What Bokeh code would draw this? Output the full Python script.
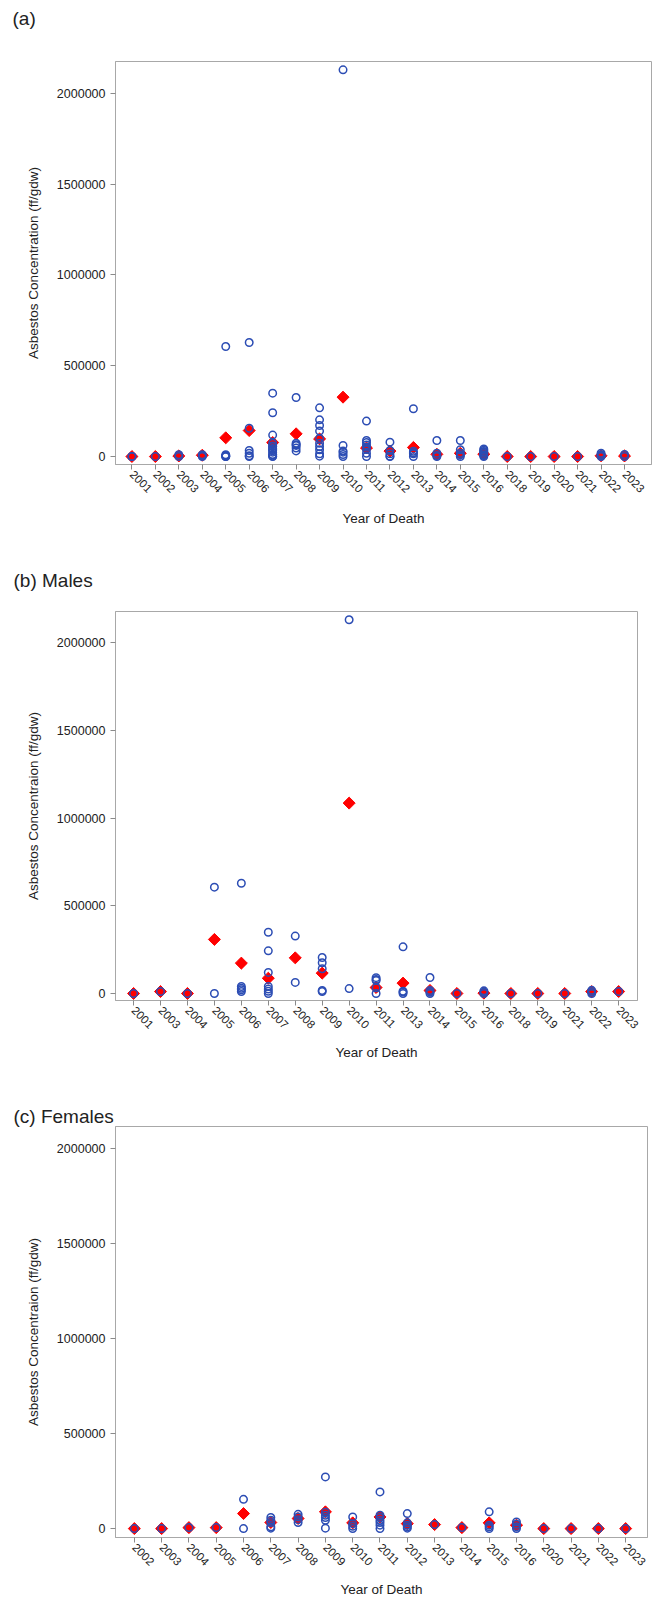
import math
from bokeh.plotting import figure
from bokeh.layouts import column
from bokeh.models import Range1d, FixedTicker, NumeralTickFormatter, Title
from bokeh.embed import file_html
from bokeh.resources import INLINE

# ---------------- data: (a) all ----------------
a_years = ["2001", "2002", "2003", "2004", "2005", "2006", "2007", "2008", "2009", "2010", "2011",
           "2012", "2013", "2014", "2015", "2016", "2018", "2019", "2020", "2021", "2022", "2023"]
a_means = [0, 0, 3000, 7000, 103000, 143000, 77000, 125000, 97000, 327000, 47000,
           30000, 50000, 12000, 18000, 13000, 0, 0, 0, 0, 4000, 3000]
a_obs = [
    [0, 0],
    [0],
    [0, 10000],
    [0, 5000, 10000],
    [606000, 10000, 5000, 2000, 0, 0],
    [628000, 156000, 33000, 18000, 4000, 0],
    [349000, 241000, 118000, 73000, 55000, 39000, 24000, 11000, 0, 58000, 44000, 32000, 9000, 2000],
    [325000, 73000, 61000, 31000, 47000, 65000],
    [268000, 202000, 171000, 140000, 99000, 73000, 55000, 37000, 15000, 2000],
    [2130000, 61000, 30000, 24000, 11000, 0],
    [195000, 88000, 77000, 64000, 51000, 39000, 18000, 0],
    [79000, 33000, 15000, 2000, 0],
    [263000, 29000, 21000, 15000, 0],
    [88000, 18000, 5000, 0],
    [88000, 37000, 18000, 9000, 0],
    [42000, 35000, 28000, 23000, 17000, 9000, 5000, 0],
    [0],
    [0],
    [0],
    [0],
    [18000, 10000, 5000, 0],
    [11000, 0],
]

# ---------------- data: (b) males ----------------
b_years = ["2001", "2003", "2004", "2005", "2006", "2007", "2008", "2009", "2010", "2011",
           "2013", "2014", "2015", "2016", "2018", "2019", "2021", "2022", "2023"]
b_means = [0, 11000, 0, 308000, 173000, 87000, 203000, 116000, 1085000, 34000,
           59000, 17000, 0, 2000, 0, 0, 0, 11000, 11000]
b_obs = [
    [0],
    [11000],
    [0],
    [606000, 0],
    [628000, 40000, 30000, 21000, 11000],
    [349000, 243000, 120000, 40000, 25000, 13000, 0],
    [327000, 63000],
    [205000, 175000, 141000, 17000, 11000],
    [2130000, 28000],
    [90000, 80000, 74000, 32000, 0],
    [266000, 13000, 8000, 0],
    [91000, 17000, 8000, 0],
    [0],
    [15000, 8000, 0],
    [0],
    [0],
    [0],
    [18000, 10000, 0],
    [11000],
]

# ---------------- data: (c) females ----------------
c_years = ["2002", "2003", "2004", "2005", "2006", "2007", "2008", "2009", "2010", "2011",
           "2012", "2013", "2014", "2015", "2016", "2020", "2021", "2022", "2023"]
c_means = [0, 0, 5000, 5000, 79000, 32000, 53000, 88000, 30000, 61000,
           26000, 21000, 5000, 30000, 18000, 0, 0, 0, 0]
c_obs = [
    [0],
    [0],
    [5000],
    [5000],
    [154000, 0],
    [58000, 44000, 32000, 9000, 2000],
    [75000, 61000, 47000, 32000],
    [272000, 86000, 70000, 58000, 44000, 2000],
    [61000, 26000, 12000, 0],
    [193000, 70000, 58000, 44000, 32000, 18000, 0],
    [79000, 30000, 18000, 9000, 2000],
    [21000],
    [5000],
    [88000, 18000, 9000, 0],
    [35000, 23000, 9000, 0],
    [0],
    [0],
    [0],
    [0],
]

y_ticks = [0, 500000, 1000000, 1500000, 2000000]

FONT = "Liberation Sans"
BLUE = "#2C4DB4"
RED = "#FF0000"
TEXT = "#222222"
FRAME = "#A8A8A8"
TICK = "#8A8A8A"


def panel(title, ylabel, years, means, obs, fw, fh, bl, br, bt, bb,
          pad_l, pad_r, ymin, ymax, spacer, xlab_standoff):
    n = len(years)
    p = figure(title=None, frame_width=fw, frame_height=fh, output_backend="svg",
               toolbar_location=None,
               x_range=Range1d(-pad_l, n - 1 + pad_r), y_range=Range1d(ymin, ymax),
               min_border_left=bl, min_border_right=br, min_border_top=bt, min_border_bottom=bb)
    p.background_fill_color = "white"
    p.border_fill_color = "white"
    p.outline_line_color = FRAME
    p.outline_line_width = 1
    p.xgrid.visible = False
    p.ygrid.visible = False

    # an empty spacer title next to the frame, then the panel title above it
    if spacer is not None:
        p.add_layout(Title(text=" ", text_font_size="1px", standoff=spacer), "above")
    p.add_layout(Title(text=title, text_font=FONT, text_font_size="19px",
                       text_font_style="normal", text_color=TEXT, align="left",
                       offset=-(bl - 12), standoff=0), "above")

    # means (red diamonds) drawn first, individual values on top
    p.scatter(x=list(range(n)), y=means, marker="square", angle=math.pi / 4, size=8.5,
              fill_color=RED, line_color=RED, line_width=1)
    xs, ys = [], []
    for i, vals in enumerate(obs):
        for v in vals:
            xs.append(i)
            ys.append(v)
    p.scatter(x=xs, y=ys, marker="circle", size=7.5, fill_color=None,
              line_color=BLUE, line_width=1.5)

    xa = p.xaxis[0]
    xa.ticker = FixedTicker(ticks=list(range(n)))
    xa.major_label_overrides = {i: y for i, y in enumerate(years)}
    xa.major_label_orientation = -math.pi / 4
    xa.axis_label = "Year of Death"
    ya = p.yaxis[0]
    ya.ticker = FixedTicker(ticks=y_ticks)
    ya.formatter = NumeralTickFormatter(format="0")
    ya.axis_label = ylabel
    for ax in (xa, ya):
        ax.axis_line_color = FRAME
        ax.major_tick_line_color = TICK
        ax.major_tick_out = 5
        ax.major_tick_in = 0
        ax.minor_tick_line_color = None
        ax.major_label_text_font = FONT
        ax.major_label_text_color = TEXT
        ax.axis_label_text_font = FONT
        ax.axis_label_text_font_size = "13.5px"
        ax.axis_label_text_font_style = "normal"
        ax.axis_label_text_color = TEXT
    xa.major_label_standoff = 3
    ya.major_label_standoff = 5
    xa.major_label_text_font_size = "11.5px"
    ya.major_label_text_font_size = "12.5px"
    xa.axis_label_standoff = xlab_standoff
    ya.axis_label_standoff = 13
    return p


pa = panel("(a)", "Asbestos Concentration (ff/gdw)", a_years, a_means, a_obs,
           536, 403, 115, 2, 61, 81, 0.7, 1.15, -44000, 2176000, 30, 12)
pb = panel("(b) Males", "Asbestos Concentraion (ff/gdw)", b_years, b_means, b_obs,
           522, 389, 114, 17, 66, 75, 0.67, 0.7, -40000, 2177000, 18, 10)
pc = panel("(c) Females", "Asbestos Concentraion (ff/gdw)", c_years, c_means, c_obs,
           532, 411, 114, 7, 51, 63, 0.69, 0.8, -47000, 2116000, None, 10)

layout = column(pa, pb, pc, spacing=0)
open("out.html", "w").write(file_html(layout, INLINE))
